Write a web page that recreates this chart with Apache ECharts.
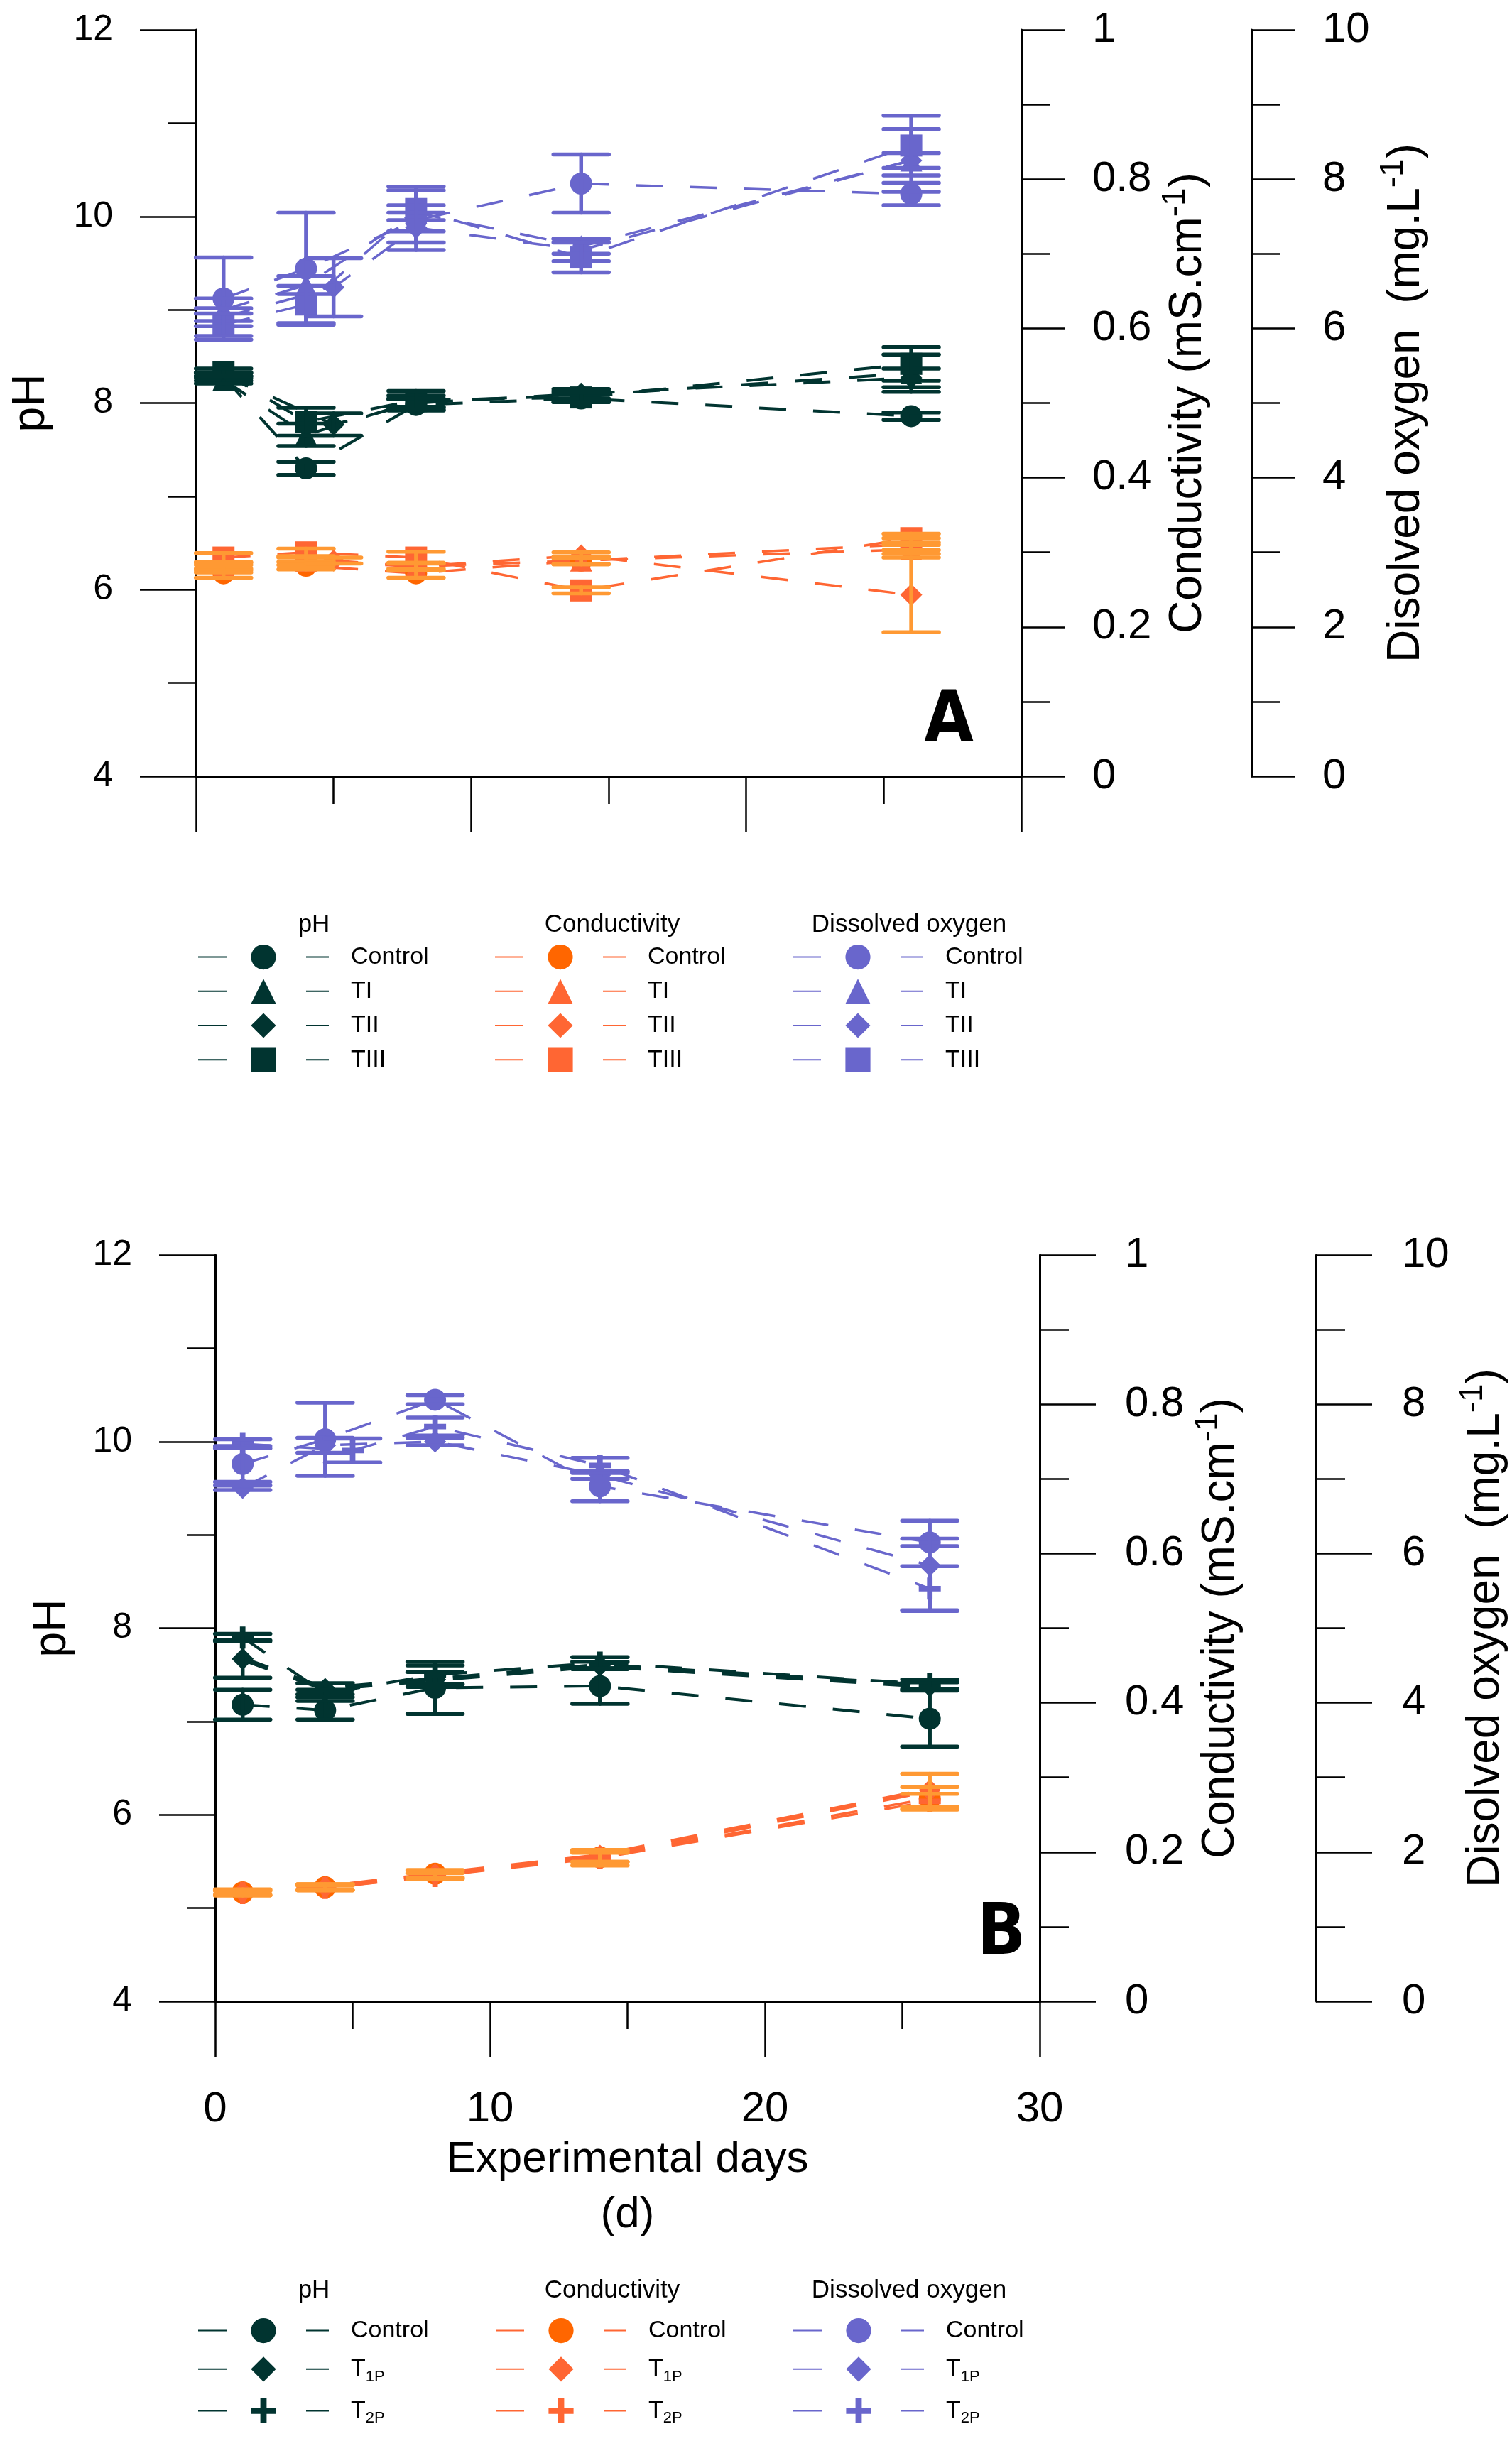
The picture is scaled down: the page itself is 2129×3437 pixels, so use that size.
<!DOCTYPE html>
<html>
<head>
<meta charset="utf-8">
<script src="https://cdn.jsdelivr.net/npm/echarts@6/dist/echarts.min.js"></script>
<style>
  html, body { margin: 0; padding: 0; background: #fff; }
  #chart { width: 2129px; height: 3437px; }
</style>
</head>
<body>
<div id="chart"></div>
<script>
// values (mean and error half-width)
const daysA = [1, 4, 8, 14, 26];
const daysA_TII = [1, 5, 8, 14, 26];
const daysB = [1, 4, 8, 14, 26];
const daysB_T2P = [1, 5, 8, 14, 26];

// panel A - pH
const phA_Control = [8.28, 7.30, 7.98, 8.05, 7.86];
const phA_Control_err = [0.04, 0.07, 0.06, 0.04, 0.04];
const phA_TI = [8.25, 7.66, 8.02, 8.08, 8.32];
const phA_TI_err = [0.04, 0.12, 0.06, 0.05, 0.20];
const phA_TII = [8.30, 7.77, 8.00, 8.10, 8.27];
const phA_TII_err = [0.03, 0.12, 0.05, 0.05, 0.10];
const phA_TIII = [8.33, 7.80, 8.03, 8.06, 8.42];
const phA_TIII_err = [0.04, 0.15, 0.10, 0.05, 0.18];

// panel A - conductivity (mS/cm)
const condA_Control = [0.272, 0.282, 0.272, 0.289, 0.311];
const condA_Control_err = [0.006, 0.005, 0.006, 0.005, 0.008];
const condA_TI = [0.281, 0.288, 0.281, 0.289, 0.304];
const condA_TI_err = [0.005, 0.005, 0.005, 0.005, 0.006];
const condA_TII = [0.278, 0.289, 0.281, 0.296, 0.243];
const condA_TII_err = [0.005, 0.004, 0.005, 0.004, 0.050];
const condA_TIII = [0.293, 0.300, 0.293, 0.249, 0.319];
const condA_TIII_err = [0.006, 0.005, 0.008, 0.004, 0.006];

// panel A - dissolved oxygen (mg/L)
const doA_Control = [6.40, 6.80, 7.45, 7.94, 7.80];
const doA_Control_err = [0.55, 0.75, 0.40, 0.39, 0.15];
const doA_TI = [6.25, 6.58, 7.55, 7.10, 8.25];
const doA_TI_err = [0.15, 0.12, 0.10, 0.10, 0.42];
const doA_TII = [6.15, 6.55, 7.35, 7.05, 8.25];
const doA_TII_err = [0.12, 0.39, 0.20, 0.15, 0.10];
const doA_TIII = [6.05, 6.32, 7.60, 6.95, 8.45];
const doA_TIII_err = [0.15, 0.25, 0.30, 0.20, 0.40];

// panel B - pH
const phB_Control = [7.18, 7.12, 7.36, 7.38, 7.03];
const phB_Control_err = [0.16, 0.10, 0.28, 0.19, 0.30];
const phB_T1P = [7.67, 7.35, 7.45, 7.60, 7.38];
const phB_T1P_err = [0.20, 0.06, 0.08, 0.04, 0.04];
const phB_T2P = [7.90, 7.30, 7.50, 7.63, 7.40];
const phB_T2P_err = [0.04, 0.04, 0.10, 0.06, 0.05];

// panel B - conductivity
const condB_Control = [0.146, 0.153, 0.171, 0.193, 0.272];
const condB_Control_err = [0.004, 0.004, 0.005, 0.006, 0.015];
const condB_T1P = [0.146, 0.153, 0.170, 0.195, 0.283];
const condB_T1P_err = [0.003, 0.004, 0.005, 0.008, 0.022];
const condB_T2P = [0.145, 0.152, 0.168, 0.192, 0.268];
const condB_T2P_err = [0.003, 0.003, 0.004, 0.010, 0.010];

// panel B - dissolved oxygen
const doB_Control = [7.20, 7.53, 8.06, 6.90, 6.15];
const doB_Control_err = [0.24, 0.49, 0.06, 0.20, 0.05];
const doB_T1P = [6.88, 7.45, 7.50, 7.05, 5.84];
const doB_T1P_err = [0.03, 0.10, 0.05, 0.05, 0.60];
const doB_T2P = [7.47, 7.38, 7.70, 7.18, 5.53];
const doB_T2P_err = [0.06, 0.16, 0.12, 0.10, 0.30];

const phTicks = [4, 12, 2];
const condTicks = [0, 1, 0.2];
const doTicks = [0, 10, 2];
const dayTicks = [0, 30, 10];

// ---- styling ----
const FONT = '"Liberation Sans", Arial, sans-serif';
const PH = '#013430';
const DO = '#6966cc';
const COND = '#ff6633';
const COND_CTRL = '#ff6600';
const COND_ERR = '#ff9933';
const CROSS = 'path://M3,0H5V3H8V5H5V8H3V5H0V3H3Z';
const DASH = [38, 38];

const chart = echarts.init(document.getElementById('chart'));

function zip(xs, ys) { return xs.map((x, i) => [x, ys[i]]); }

function lineSeries(name, xs, ys, symbol, color, lineColor, width, xi, yi) {
  return {
    type: 'line', name: name, xAxisIndex: xi, yAxisIndex: yi,
    data: zip(xs, ys), symbol: symbol, symbolSize: 31,
    itemStyle: { color: color },
    lineStyle: { color: lineColor, width: width, type: DASH },
    emphasis: { disabled: true }, animation: false, z: 3
  };
}

function errSeries(xs, ys, err, color, xi, yi) {
  return {
    type: 'custom', xAxisIndex: xi, yAxisIndex: yi, z: 4, animation: false,
    data: xs.map((x, i) => [x, ys[i] - err[i], ys[i] + err[i]]),
    renderItem: function (params, api) {
      const lo = api.coord([api.value(0), api.value(1)]);
      const hi = api.coord([api.value(0), api.value(2)]);
      const hw = 39;
      const st = { stroke: color, lineWidth: 5.5, lineCap: 'round' };
      return {
        type: 'group', children: [
          { type: 'line', shape: { x1: lo[0], y1: lo[1], x2: hi[0], y2: hi[1] }, style: st },
          { type: 'line', shape: { x1: lo[0] - hw, y1: lo[1], x2: lo[0] + hw, y2: lo[1] }, style: st },
          { type: 'line', shape: { x1: hi[0] - hw, y1: hi[1], x2: hi[0] + hw, y2: hi[1] }, style: st }
        ]
      };
    }
  };
}

const series = [];
function addGroup(prefix, defs, xi, yi) {
  defs.forEach(d => series.push(lineSeries(prefix + d.t, d.x, d.y, d.s, d.c, d.lc, d.w, xi, yi)));
  defs.forEach(d => series.push(errSeries(d.x, d.y, d.e, d.ec, xi, yi)));
}

// panel A
addGroup('A|pH|', [
  { t: 'Control', x: daysA, y: phA_Control, e: phA_Control_err, s: 'circle', c: PH, lc: PH, ec: PH, w: 4 },
  { t: 'TI', x: daysA, y: phA_TI, e: phA_TI_err, s: 'triangle', c: PH, lc: PH, ec: PH, w: 4 },
  { t: 'TII', x: daysA_TII, y: phA_TII, e: phA_TII_err, s: 'diamond', c: PH, lc: PH, ec: PH, w: 4 },
  { t: 'TIII', x: daysA, y: phA_TIII, e: phA_TIII_err, s: 'rect', c: PH, lc: PH, ec: PH, w: 4 }
], 0, 0);
addGroup('A|cond|', [
  { t: 'Control', x: daysA, y: condA_Control, e: condA_Control_err, s: 'circle', c: COND_CTRL, lc: COND, ec: COND_ERR, w: 3.5 },
  { t: 'TI', x: daysA, y: condA_TI, e: condA_TI_err, s: 'triangle', c: COND, lc: COND, ec: COND_ERR, w: 3.5 },
  { t: 'TII', x: daysA_TII, y: condA_TII, e: condA_TII_err, s: 'diamond', c: COND, lc: COND, ec: COND_ERR, w: 3.5 },
  { t: 'TIII', x: daysA, y: condA_TIII, e: condA_TIII_err, s: 'rect', c: COND, lc: COND, ec: COND_ERR, w: 3.5 }
], 0, 1);
addGroup('A|do|', [
  { t: 'Control', x: daysA, y: doA_Control, e: doA_Control_err, s: 'circle', c: DO, lc: DO, ec: DO, w: 3.5 },
  { t: 'TI', x: daysA, y: doA_TI, e: doA_TI_err, s: 'triangle', c: DO, lc: DO, ec: DO, w: 3.5 },
  { t: 'TII', x: daysA_TII, y: doA_TII, e: doA_TII_err, s: 'diamond', c: DO, lc: DO, ec: DO, w: 3.5 },
  { t: 'TIII', x: daysA, y: doA_TIII, e: doA_TIII_err, s: 'rect', c: DO, lc: DO, ec: DO, w: 3.5 }
], 0, 2);

// panel B
addGroup('B|pH|', [
  { t: 'Control', x: daysB, y: phB_Control, e: phB_Control_err, s: 'circle', c: PH, lc: PH, ec: PH, w: 4 },
  { t: 'T1P', x: daysB, y: phB_T1P, e: phB_T1P_err, s: 'diamond', c: PH, lc: PH, ec: PH, w: 7 },
  { t: 'T2P', x: daysB, y: phB_T2P, e: phB_T2P_err, s: CROSS, c: PH, lc: PH, ec: PH, w: 4 }
], 1, 3);
addGroup('B|cond|', [
  { t: 'Control', x: daysB, y: condB_Control, e: condB_Control_err, s: 'circle', c: COND_CTRL, lc: COND, ec: COND_ERR, w: 3.5 },
  { t: 'T1P', x: daysB, y: condB_T1P, e: condB_T1P_err, s: 'diamond', c: COND, lc: COND, ec: COND_ERR, w: 7 },
  { t: 'T2P', x: daysB, y: condB_T2P, e: condB_T2P_err, s: CROSS, c: COND, lc: COND, ec: COND_ERR, w: 3.5 }
], 1, 4);
addGroup('B|do|', [
  { t: 'Control', x: daysB, y: doB_Control, e: doB_Control_err, s: 'circle', c: DO, lc: DO, ec: DO, w: 3.5 },
  { t: 'T1P', x: daysB, y: doB_T1P, e: doB_T1P_err, s: 'diamond', c: DO, lc: DO, ec: DO, w: 3.5 },
  { t: 'T2P', x: daysB_T2P, y: doB_T2P, e: doB_T2P_err, s: CROSS, c: DO, lc: DO, ec: DO, w: 3.5 }
], 1, 5);

const axisLine = { show: true, lineStyle: { color: '#000', width: 3 } };

function xAxis(grid, showLabels) {
  return {
    type: 'value', gridIndex: grid, min: dayTicks[0], max: dayTicks[1], interval: dayTicks[2],
    axisLine: axisLine, splitLine: { show: false },
    axisTick: { show: true, length: 79, lineStyle: { color: '#000', width: 2.5 } },
    minorTick: { show: true, splitNumber: 2, length: 39, lineStyle: { color: '#000', width: 2.5 } },
    axisLabel: { show: showLabels, fontSize: 60, color: '#000', margin: 122, fontFamily: FONT },
    name: showLabels ? 'Experimental days\n(d)' : '', nameLocation: 'middle', nameGap: 184,
    nameTextStyle: { fontSize: 62, lineHeight: 78, color: '#000', fontFamily: FONT }
  };
}

const supRich = {
  sup: { fontSize: 46, verticalAlign: 'top', padding: [0, 0, 36, 0], color: '#000', fontFamily: FONT }
};

function yAxis(grid, ticks, pos, offset, name, gap, labelSize, margin, tick, minor, fmt) {
  return {
    type: 'value', gridIndex: grid, position: pos, offset: offset,
    min: ticks[0], max: ticks[1], interval: ticks[2],
    axisLine: axisLine, splitLine: { show: false },
    axisTick: { show: true, length: tick, lineStyle: { color: '#000', width: 2.5 } },
    minorTick: { show: true, splitNumber: 2, length: minor, lineStyle: { color: '#000', width: 2.5 } },
    axisLabel: { fontSize: labelSize, color: '#000', margin: margin, fontFamily: FONT, formatter: fmt },
    name: name, nameLocation: 'middle', nameRotate: 90, nameGap: gap,
    nameTextStyle: { fontSize: 64, color: '#000', fontFamily: FONT, rich: supRich }
  };
}

const condFmt = v => (v === 0 || v === 1) ? String(v) : v.toFixed(1);
const intFmt = v => String(Math.round(v));
const condName = 'Conductivity (mS.cm{sup|-1})';
const doName = 'Disolved oxygen  (mg.L{sup|-1})';

function legend(prefix, names, left, top, gap, labels) {
  return {
    show: true, orient: 'vertical', left: left, top: top, padding: 0,
    itemWidth: 184, itemHeight: 44, itemGap: gap, selectedMode: false,
    data: names.map(n => prefix + n),
    formatter: function (n) { return labels[n.split('|')[2]]; },
    lineStyle: { type: [40, 112, 32, 200] },
    textStyle: {
      fontSize: 34, color: '#000', fontFamily: FONT,
      rich: {
        t: { fontSize: 34, color: '#000', fontFamily: FONT, padding: [0, 0, 0, 26] },
        s: { fontSize: 22, color: '#000', fontFamily: FONT, verticalAlign: 'bottom', padding: [22, 0, 0, 0] }
      }
    }
  };
}

const labA = { Control: '{t|Control}', TI: '{t|TI}', TII: '{t|TII}', TIII: '{t|TIII}' };
const labB = { Control: '{t|Control}', T1P: '{t|T}{s|1P}', T2P: '{t|T}{s|2P}' };
const namesA = ['Control', 'TI', 'TII', 'TIII'];
const namesB = ['Control', 'T1P', 'T2P'];

function label(text, x, y, size, weight, family) {
  return {
    type: 'text', x: x, y: y, silent: true,
    style: {
      text: text, fill: '#000', align: 'center', verticalAlign: 'middle',
      textAlign: 'center', textVerticalAlign: 'middle',
      font: (weight || 'normal') + ' ' + size + 'px ' + (family || FONT)
    }
  };
}

const option = {
  backgroundColor: '#fff',
  animation: false,
  textStyle: { fontFamily: FONT },
  grid: [
    { left: 276, top: 42, width: 1162, height: 1051, outerBoundsMode: 'none' },
    { left: 303, top: 1767, width: 1161, height: 1051, outerBoundsMode: 'none' }
  ],
  xAxis: [xAxis(0, false), xAxis(1, true)],
  yAxis: [
    yAxis(0, phTicks, 'left', 0, 'pH', 200, 50, 117, 79, 39, intFmt),
    yAxis(0, condTicks, 'right', 0, condName, 176, 60, 100, 61, 40, condFmt),
    yAxis(0, doTicks, 'right', 324, doName, 160, 60, 100, 61, 40, intFmt),
    yAxis(1, phTicks, 'left', 0, 'pH', 197, 50, 117, 79, 39, intFmt),
    yAxis(1, condTicks, 'right', 0, condName, 195, 60, 120, 79, 41, condFmt),
    yAxis(1, doTicks, 'right', 389, doName, 175, 60, 121, 79, 41, intFmt)
  ],
  legend: [
    legend('A|pH|', namesA, 278, 1330, 13, labA),
    legend('A|cond|', namesA, 696, 1330, 13, labA),
    legend('A|do|', namesA, 1115, 1330, 13, labA),
    legend('B|pH|', namesB, 278, 3264, 19, labB),
    legend('B|cond|', namesB, 697, 3264, 19, labB),
    legend('B|do|', namesB, 1116, 3264, 19, labB)
  ],
  graphic: [
    label('pH', 442, 1302, 35),
    label('Conductivity', 862, 1302, 35),
    label('Dissolved oxygen', 1280, 1302, 35),
    label('pH', 442, 3225, 35),
    label('Conductivity', 862, 3225, 35),
    label('Dissolved oxygen', 1280, 3225, 35),
    label('A', 1336, 1017, 100, 'bold', '"Liberation Sans Narrow", "DejaVu Sans Condensed", sans-serif'),
    label('B', 1410, 2725, 100, 'bold', '"Liberation Sans Narrow", "DejaVu Sans Condensed", sans-serif')
  ],
  series: series
};

chart.setOption(option);
</script>
</body>
</html>
